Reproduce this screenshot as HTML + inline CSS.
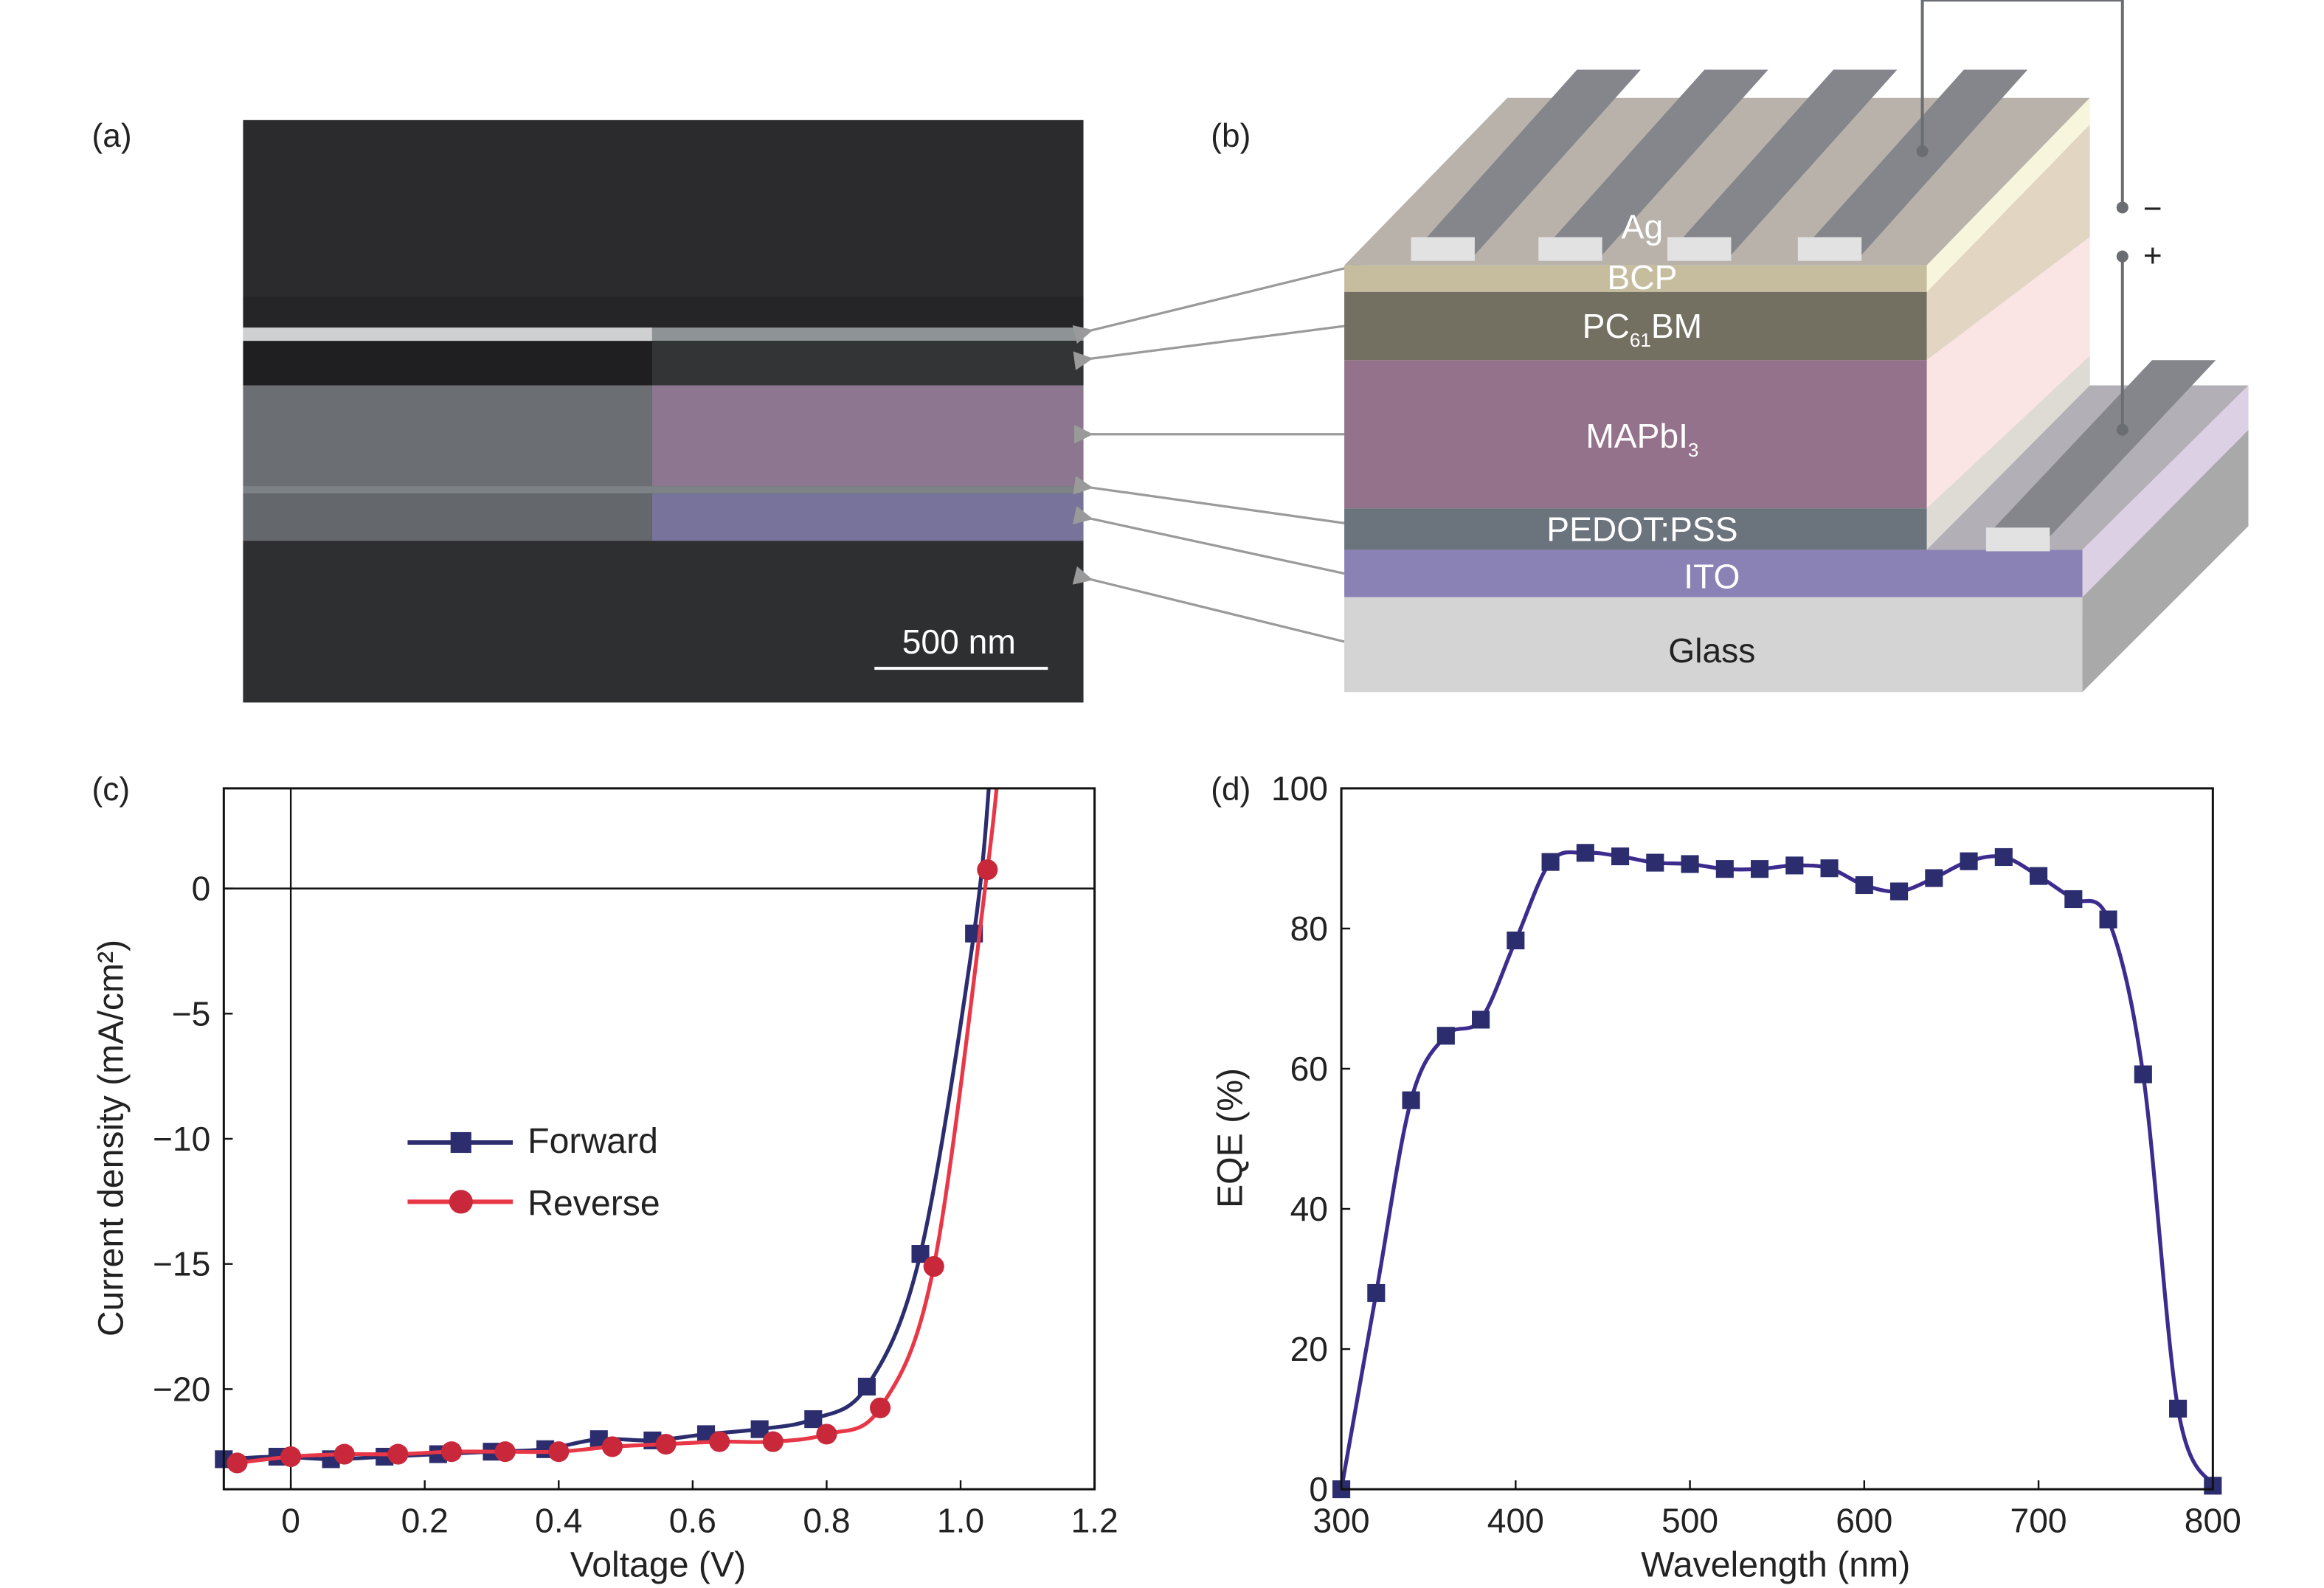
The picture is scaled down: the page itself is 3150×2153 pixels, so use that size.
<!DOCTYPE html>
<html><head><meta charset="utf-8"><style>
html,body{margin:0;padding:0;background:#fff;}
svg{display:block;}
text{font-family:"Liberation Sans Narrow","Liberation Sans",sans-serif;}
</style></head><body>
<svg id="fig" width="3150" height="2153" viewBox="0 0 1568 1071.6" xmlns="http://www.w3.org/2000/svg">
<defs>
<clipPath id="clipc"><rect x="151" y="532" width="587.5" height="473"/></clipPath>
<clipPath id="clipd"><rect x="905" y="520" width="588" height="490"/></clipPath>
<marker id="ah" markerWidth="8" markerHeight="8" refX="1" refY="4" orient="auto-start-reverse"><path d="M8,0 L0,4 L8,8 z" fill="#9a9a9a"/></marker>
</defs>

<g>
<text x="62" y="99" font-size="22" fill="#222">(a)</text>
<rect x="164" y="81" width="567" height="393" fill="#2b2b2d"/>
<rect x="164" y="200" width="567" height="22" fill="#252527"/>
<rect x="164" y="221" width="276" height="10" fill="#cfd0d2"/>
<rect x="440" y="221" width="291" height="9" fill="#8e9396"/>
<rect x="164" y="230" width="567" height="30" fill="#1f1f21"/>
<rect x="440" y="230" width="291" height="30" fill="#323436"/>
<rect x="164" y="260" width="276" height="68" fill="#6b6e73"/>
<rect x="440" y="260" width="291" height="68" fill="#8c7690"/>
<rect x="164" y="328" width="567" height="5" fill="#7d8286"/>
<rect x="164" y="333" width="276" height="32" fill="#64676c"/>
<rect x="440" y="333" width="291" height="32" fill="#77739a"/>
<rect x="164" y="365" width="567" height="109" fill="#2e2f31"/>
<text x="647" y="441" font-size="23" fill="#fff" text-anchor="middle">500 nm</text>
<line x1="590" y1="451" x2="707" y2="451" stroke="#fff" stroke-width="2"/>
</g>
<g stroke="#9a9a9a" stroke-width="1.6" fill="none">
<line x1="952" y1="170" x2="736" y2="223" marker-end="url(#ah)"/>
<line x1="907" y1="220" x2="736" y2="242" marker-end="url(#ah)"/>
<line x1="907" y1="293" x2="736" y2="293" marker-end="url(#ah)"/>
<line x1="907" y1="353" x2="736" y2="329" marker-end="url(#ah)"/>
<line x1="907" y1="387" x2="736" y2="350" marker-end="url(#ah)"/>
<line x1="907" y1="433" x2="736" y2="391" marker-end="url(#ah)"/>
</g>

<g>
<text x="817" y="99" font-size="22" fill="#222">(b)</text>
<polygon points="907,179 1300,179 1410,66 1017,66" fill="#b9b2ab"/>
<polygon points="1300,179 1410,66 1410,84 1300,197" fill="#f7f5dc"/>
<polygon points="1300,197 1410,84 1410,160 1300,243" fill="#e2d6c2"/>
<polygon points="1300,243 1410,160 1410,260 1300,343" fill="#fbe4e4"/>
<polygon points="1300,343 1410,240 1410,260 1300,371" fill="#dedad4"/>
<polygon points="1300,371 1410,260 1517,260 1405,371" fill="#b2afb6"/>
<polygon points="1405,371 1517,260 1517,290 1405,403" fill="#dcd0e4"/>
<polygon points="1405,403 1517,290 1517,355 1405,467" fill="#a9a9a9"/>
<rect x="907" y="179" width="393" height="18" fill="#c6bd9f"/>
<rect x="907" y="197" width="393" height="46" fill="#737062"/>
<rect x="907" y="243" width="393" height="100" fill="#95728b"/>
<rect x="907" y="343" width="393" height="28" fill="#6b737d"/>
<rect x="907" y="371" width="498" height="32" fill="#8a82b5"/>
<rect x="907" y="403" width="498" height="64" fill="#d4d4d4"/>
<g fill="#84868b">
<polygon points="952,172 995,172 1107,47 1064,47"/>
<polygon points="1038,172 1081,172 1193,47 1150,47"/>
<polygon points="1125,172 1168,172 1280,47 1237,47"/>
<polygon points="1213,172 1256,172 1368,47 1325,47"/>
<polygon points="1340,362 1383,362 1495,243 1452,243"/>
</g>
<g fill="#e2e2e2">
<rect x="952" y="160" width="43" height="16"/><rect x="1038" y="160" width="43" height="16"/>
<rect x="1125" y="160" width="43" height="16"/><rect x="1213" y="160" width="43" height="16"/>
<rect x="1340" y="356" width="43" height="16"/>
</g>
<polyline points="1297,102 1297,0 1432,0 1432,140" fill="none" stroke="#6a6d72" stroke-width="2"/>
<line x1="1432" y1="173" x2="1432" y2="290" stroke="#6a6d72" stroke-width="2"/>
<g fill="#6a6d72"><circle cx="1297" cy="102" r="4"/><circle cx="1432" cy="140" r="4"/><circle cx="1432" cy="173" r="4"/><circle cx="1432" cy="290" r="4"/></g>
<text x="1446" y="148" font-size="22" fill="#222">−</text>
<text x="1446" y="180" font-size="22" fill="#222">+</text>
<g font-size="23" fill="#fff" text-anchor="middle">
<text x="1108" y="161">Ag</text>
<text x="1108" y="195">BCP</text>
<text x="1108" y="228">PC<tspan font-size="13" dy="6">61</tspan><tspan dy="-6">BM</tspan></text>
<text x="1108" y="302">MAPbI<tspan font-size="13" dy="6">3</tspan></text>
<text x="1108" y="365">PEDOT:PSS</text>
<text x="1155" y="397">ITO</text>
<text x="1155" y="447" fill="#222">Glass</text>
</g>
</g>

<g id="chartc"></g>
<g id="chartd"></g>
</svg>
<script>
// ---- Panel c data ----
const cXTicks = [0, 0.2, 0.4, 0.6, 0.8, 1.0, 1.2];
const cXTickLabels = ["0", "0.2", "0.4", "0.6", "0.8", "1.0", "1.2"];
const cYTicks = [0, -5, -10, -15, -20];
const cYTickLabels = ["0", "−5", "−10", "−15", "−20"];
const fwdV = [-0.1, -0.02, 0.06, 0.14, 0.22, 0.30, 0.38, 0.46, 0.54, 0.62, 0.70, 0.78, 0.86, 0.94, 1.02];
const fwdJ = [-22.8, -22.7, -22.8, -22.7, -22.6, -22.5, -22.4, -22.0, -22.05, -21.8, -21.6, -21.2, -19.9, -14.6, -1.8];
const revV = [-0.08, 0.0, 0.08, 0.16, 0.24, 0.32, 0.40, 0.48, 0.56, 0.64, 0.72, 0.80, 0.88, 0.96, 1.04];
const revJ = [-22.95, -22.7, -22.6, -22.6, -22.5, -22.5, -22.5, -22.3, -22.2, -22.1, -22.1, -21.8, -20.75, -15.1, 0.75];
// ---- Panel d data ----
const dWl = [300,320,340,360,380,400,420,440,460,480,500,520,540,560,580,600,620,640,660,680,700,720,740,760,780,800];
const dEqe = [0,28,55.5,64.7,67,78.3,89.5,90.8,90.3,89.4,89.2,88.5,88.5,89,88.6,86.2,85.3,87.2,89.6,90.2,87.5,84.2,81.3,59.2,11.5,0.5];
const dXTicks = [300,400,500,600,700,800];
const dYTicks = [0,20,40,60,80,100];

const NS = "http://www.w3.org/2000/svg";
function mk(parent, tag, attrs, txt){
  const e = document.createElementNS(NS, tag);
  for (const k in attrs) e.setAttribute(k, attrs[k]);
  if (txt !== undefined) e.textContent = txt;
  parent.appendChild(e); return e;
}
function lin(d0,d1,r0,r1){ return v => r0 + (v-d0)/(d1-d0)*(r1-r0); }
function smooth(pts){
  let d = "M" + pts[0][0] + "," + pts[0][1];
  for (let i=0;i<pts.length-1;i++){
    const p0 = pts[Math.max(0,i-1)], p1 = pts[i], p2 = pts[i+1], p3 = pts[Math.min(pts.length-1,i+2)];
    const c1 = [p1[0]+(p2[0]-p0[0])/6, p1[1]+(p2[1]-p0[1])/6];
    const c2 = [p2[0]-(p3[0]-p1[0])/6, p2[1]-(p3[1]-p1[1])/6];
    d += " C"+c1[0]+","+c1[1]+" "+c2[0]+","+c2[1]+" "+p2[0]+","+p2[1];
  }
  return d;
}

(function(){
  const g = document.getElementById("chartc");
  const L=151,R=738.5,T=532,B=1005;
  const x = lin(-0.1,1.2,L,R), y = lin(-24,4,B,T);
  const lab = mk(g,"text",{x:62,y:540,"font-size":22,fill:"#222"},"(c)");
  
  
  const z1 = mk(g,"line",{x1:x(0),x2:x(0),y1:T,y2:B,stroke:"#111","stroke-width":1.2});
  
  
  const z2 = mk(g,"line",{x1:L,x2:R,y1:y(0),y2:y(0),stroke:"#111","stroke-width":1.2});
  
  
  cXTicks.forEach((t,i)=>{
    mk(g,"line",{x1:x(t),x2:x(t),y1:B,y2:B-6,stroke:"#111","stroke-width":1.2});
    const tl = mk(g,"text",{x:x(t),y:B+29,"font-size":23,"text-anchor":"middle",fill:"#222"},cXTickLabels[i]);
    
    
  });
  cYTicks.forEach((t,i)=>{
    mk(g,"line",{x1:L,x2:L+6,y1:y(t),y2:y(t),stroke:"#111","stroke-width":1.2});
    const tl = mk(g,"text",{x:L-9,y:y(t)+8,"font-size":23,"text-anchor":"end",fill:"#222"},cYTickLabels[i]);
    
    
  });
  const series = [
    {V:fwdV,J:fwdJ,ext:[1.045,5],col:"#2b2d6e",line:"#2b2d6e",name:"forward"},
    {V:revV,J:revJ,ext:[1.06,6],col:"#c8283a",line:"#e83848",name:"reverse"}
  ];
  series.forEach(s=>{
    const pts = s.V.map((v,i)=>[x(v),y(s.J[i])]);
    pts.push([x(s.ext[0]),y(s.ext[1])]);
    const p = mk(g,"path",{d:smooth(pts),fill:"none",stroke:s.line,"stroke-width":2.6,"clip-path":"url(#clipc)"});
    
    
    s.V.forEach((v,i)=>{
      let m;
      if (s.name==="forward") m = mk(g,"rect",{x:x(v)-6,y:y(s.J[i])-6,width:12,height:12,fill:s.col});
      else m = mk(g,"circle",{cx:x(v),cy:y(s.J[i]),r:7,fill:s.col});
      
      
    });
  });
  const fr = mk(g,"rect",{x:L,y:T,width:R-L,height:B-T,fill:"none",stroke:"#111","stroke-width":1.5});
  
  
  const lg1 = mk(g,"g",{});
  
  
  mk(lg1,"line",{x1:275,x2:346,y1:771,y2:771,stroke:"#2b2d6e","stroke-width":3});
  mk(lg1,"rect",{x:304,y:764,width:14,height:14,fill:"#2b2d6e"});
  mk(lg1,"text",{x:356,y:778,"font-size":24,fill:"#222"},"Forward");
  const lg2 = mk(g,"g",{});
  
  
  mk(lg2,"line",{x1:275,x2:346,y1:811,y2:811,stroke:"#e83848","stroke-width":3});
  mk(lg2,"circle",{cx:311,cy:811,r:8,fill:"#c8283a"});
  mk(lg2,"text",{x:356,y:820,"font-size":24,fill:"#222"},"Reverse");
  const xt = mk(g,"text",{x:444,y:1064,"font-size":24,"text-anchor":"middle",fill:"#222"},"Voltage (V)");
  
  
  const yt = mk(g,"text",{x:0,y:0,"font-size":24,"text-anchor":"middle",fill:"#222",transform:"translate(83,768) rotate(-90)"});
  
  
  yt.textContent = "Current density (mA/cm²)";
})();

(function(){
  const g = document.getElementById("chartd");
  const L=905,R=1493,T=532,B=1005;
  const x = lin(300,800,L,R), y = lin(0,100,B,T);
  const lab = mk(g,"text",{x:817,y:540,"font-size":22,fill:"#222"},"(d)");
  
  
  dXTicks.forEach(t=>{
    mk(g,"line",{x1:x(t),x2:x(t),y1:B,y2:B-6,stroke:"#111","stroke-width":1.2});
    const tl = mk(g,"text",{x:x(t),y:B+29,"font-size":23,"text-anchor":"middle",fill:"#222"},String(t));
    
    
  });
  dYTicks.forEach(t=>{
    mk(g,"line",{x1:L,x2:L+6,y1:y(t),y2:y(t),stroke:"#111","stroke-width":1.2});
    const tl = mk(g,"text",{x:L-9,y:y(t)+8,"font-size":23,"text-anchor":"end",fill:"#222"},String(t));
    
    
  });
  const pts = dWl.map((w,i)=>[x(w),y(dEqe[i])]);
  const p = mk(g,"path",{d:smooth(pts),fill:"none",stroke:"#3d2b8e","stroke-width":2.6,"clip-path":"url(#clipd)"});
  
  
  dWl.forEach((w,i)=>{
    const m = mk(g,"rect",{x:x(w)-6,y:y(dEqe[i])-6,width:12,height:12,fill:"#2b2d6e"});
    
    
  });
  const fr = mk(g,"rect",{x:L,y:T,width:R-L,height:B-T,fill:"none",stroke:"#111","stroke-width":1.5});
  
  
  const xt = mk(g,"text",{x:1198,y:1064,"font-size":24,"text-anchor":"middle",fill:"#222"},"Wavelength (nm)");
  
  
  const yt = mk(g,"text",{x:0,y:0,"font-size":24,"text-anchor":"middle",fill:"#222",transform:"translate(838,768) rotate(-90)"},"EQE (%)");
  
  
})();
</script>
</body></html>
